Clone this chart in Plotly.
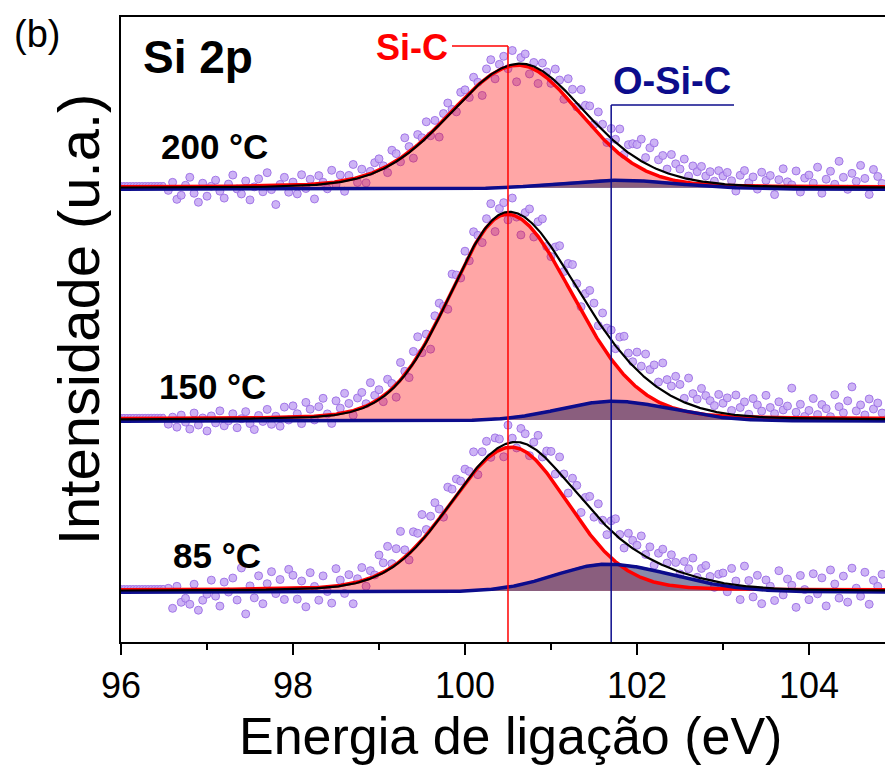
import numpy as np
import plotly.graph_objects as go

# ---------------- data (intensity in arbitrary units) ----------------
temps = ["200 °C", "150 °C", "85 °C"]
offsets = [454, 222, 51]                 # vertical offset of each spectrum
sic_center = [100.62, 100.49, 100.54]    # Si-C component (eV)
sic_amp = [122, 205, 143]
sic_hw_left = [0.94, 0.79, 0.84]
sic_hw_right = [0.85, 0.90, 0.78]
osic_center = [101.75, 101.72, 101.65]   # O-Si-C component (eV)
osic_amp = [9, 20, 28]
osic_hw_left = [0.80, 0.73, 0.72]
osic_hw_right = [0.85, 0.80, 0.92]
GL_MIX = 0.1
SIC_REF = 100.5
OSIC_REF = 101.7

x_ticks = [96, 98, 100, 102, 104]

# measured points: 96.55 ... 104.85 eV every 0.05 eV, given as deviation from the fit envelope
pts_x0, pts_dx, pts_n = 96.55, 0.05, 167
pad_x = [96.0, 96.035, 96.07, 96.105, 96.14, 96.175, 96.21, 96.245, 96.28, 96.315,
         96.35, 96.385, 96.42, 96.455, 96.49]

dev_200 = [-3, 5, -12, -8, 2, 10, -6, -15, 4, -9, 1, 7, -4, -11, 3, 12, -2, -7, 6, -13, 0, 8, -5, 14, -3, -18, 2, 9, -6,
           4, -8, 11, -3, 6, -14, 9, 2, -5, 13, -2, 7, -10, 5, 15, -4, 8, -7, 3, 10,
           12, 3, -6, 14, 8, -3, 18, 6, -9, 11, 4, 16, -2, 9, -12, 7, 13, 2, -5, 10,
           8, -4, 12, 3, -14, 9, 15, -7, 5, 11, -3, 14, -18, 6, 10, -9, 4, -15, 8, 2,
           -6, 12, 5, -10, 15, 9, -4, 18, 7, 11, -3, 14, 6, -8, 10, 3, 17, -5, 8, 12,
           14, 22, 6, 18, 25, 10, 16, 4, 20, 12, 8, 19, 3, 14, 9, 15, 6, 11, 2, 13,
           8, 12, 4, -6, 10, 15, 3, 9, -3, 14, 6, 11, -8, 7, 18, 5, 2, 16, -5, 9,
           12, 4, 20, -6, 8, 16, 3, 26, 10, -2, 14, 6, 22, 9, -7, 18, 11, 4]
dev_150 = [-5, 2, -8, 4, -3, -10, 6, -6, 1, -12, 3, -4, 8, -7, -2, 5, -9, 0, 7, -5, -11, 3, -3, 9, -6, 2, -8, 11, -2,
           12, 4, -6, 15, 8, -3, 10, 18, 2, -8, 14, 6, 20, 9, -4, 12, 16, 3, 22, 7,
           10, -5, 14, 6, -12, 18, 4, -8, 12, 20, -3, 8, -15, 10, 14, 2, -10, 16, 6, -6,
           12, -6, 15, 4, -10, 8, 18, -14, 6, 10, -8, 14, -4, -20, 5, 12, -12, 8, 16, -6,
           -10, 6, 14, -5, 10, 16, 4, -12, 8, 18, 12, -4, 15, 6, 10, -3, 14, 20, 8, 4,
           18, 8, 24, 12, 20, 6, 28, 14, 10, 22, 16, 4, 26, 12, 8, 20, 14, 10, 6, 18,
           10, 16, 4, 20, 8, 14, 2, 18, 12, 6, 22, 10, 4, 16, 8, 12, 30, 6, 14, 2,
           8, 20, 4, 14, 10, 2, 24, 12, 6, 18, 32, 8, 14, 4, 20, 10, 16, 6]
dev_85 = [2, -18, 4, -12, -8, -14, 6, -20, -10, -4, 10, -6, -16, 8, -2, 12, -10, 22, -24, 4, -8, 14, -14, 6, 18, -4, 10, -10, 20,
          14, -10, 8, -18, 16, 2, -12, 12, -4, -16, 18, 6, -8, 10, -20, 4, 14, -6, 8, 2,
          20, 10, 24, 4, 16, 30, 8, -6, 18, 12, 26, 6, 14, 22, 10, -4, 20, 12, 16, 8,
          14, 6, 20, -8, 10, 16, -4, 12, 8, -12, 18, 4, -6, 14, 10, -10, 6, 16, -2, 8,
          12, -6, 16, 4, -10, 10, 8, -14, 6, 12, -4, 14, 2, -8, 10, 16, 4, -6, 12, 8,
          6, 18, 2, 12, -4, 10, 16, 4, 14, 8, -2, 12, 6, 18, 0, 10, 14, 4, -6, 8,
          10, -8, 16, 4, -14, 20, 6, -10, 12, -16, 8, 2, -12, 18, -6, 10, 4, -18, 14, 0,
          -10, 16, -4, 12, -16, 20, 6, -8, 14, -12, 22, 2, -6, 18, -14, 10, 4, 16]
deviations = [dev_200, dev_150, dev_85]

# ---------------- styling / layout constants ----------------
W, H = 885, 767
ML, MR, MT, MB = 121, 0, 17, 125
X_RANGE = [96, 104.884]
Y_RANGE = [0, 625]
FONT = "Liberation Sans, Arial, Helvetica, sans-serif"
RED = "#ff0000"
NAVY = "#0c0c8c"

PW, PH = W - ML - MR, H - MT - MB


def px(xp):
    return (xp - ML) / PW


def py(yp):
    return (H - MB - yp) / PH


def component(x, c, a, wl, wr):
    w = np.where(x < c, wl, wr)
    u = (x - c) / w
    return a * ((1 - GL_MIX) * np.exp(-np.log(2) * u ** 2) + GL_MIX / (1 + u ** 2))


xc = np.linspace(X_RANGE[0], X_RANGE[1], 900)
xp = np.round(pts_x0 + pts_dx * np.arange(pts_n), 3)
xpad = np.array(pad_x)

fig = go.Figure()

marker = dict(size=8, color="rgba(196,166,243,0.85)",
              line=dict(color="rgba(155,110,228,0.9)", width=1))

curves = []
for i in range(3):
    y0 = offsets[i]
    sic = component(xc, sic_center[i], sic_amp[i], sic_hw_left[i], sic_hw_right[i])
    osic = component(xc, osic_center[i], osic_amp[i], osic_hw_left[i], osic_hw_right[i])

    def env(x):
        return (y0 + component(x, sic_center[i], sic_amp[i], sic_hw_left[i], sic_hw_right[i])
                + component(x, osic_center[i], osic_amp[i], osic_hw_left[i], osic_hw_right[i]))

    ypts = env(xp) + np.array(deviations[i])
    fig.add_trace(go.Scatter(x=xp, y=ypts, mode="markers", marker=marker,
                             hoverinfo="skip", showlegend=False))
    fig.add_trace(go.Scatter(x=xpad, y=env(xpad) + 2.5, mode="markers",
                             marker=dict(size=5, color="rgba(196,166,243,0.85)",
                                         line=dict(color="rgba(155,110,228,0.9)", width=1)),
                             hoverinfo="skip", showlegend=False))
    curves.append((y0, sic, osic))

for y0, sic, osic in curves:
    # Si-C filled area
    fig.add_trace(go.Scatter(x=np.concatenate([xc, xc[::-1]]),
                             y=np.concatenate([y0 + sic, np.full(len(xc), y0)]),
                             fill="toself", fillcolor="rgba(255,0,0,0.35)",
                             line=dict(width=0), mode="lines", hoverinfo="skip", showlegend=False))
    # O-Si-C filled area
    fig.add_trace(go.Scatter(x=np.concatenate([xc, xc[::-1]]),
                             y=np.concatenate([y0 + osic, np.full(len(xc), y0)]),
                             fill="toself", fillcolor="rgba(22,22,85,0.5)",
                             line=dict(width=0), mode="lines", hoverinfo="skip", showlegend=False))

for y0, sic, osic in curves:
    fig.add_trace(go.Scatter(x=xc, y=y0 + 0.8 + sic, mode="lines",
                             line=dict(color=RED, width=3.5), hoverinfo="skip", showlegend=False))
    fig.add_trace(go.Scatter(x=xc, y=y0 - 1.2 + osic, mode="lines",
                             line=dict(color=NAVY, width=3.5), hoverinfo="skip", showlegend=False))
    fig.add_trace(go.Scatter(x=xc, y=y0 + sic + osic, mode="lines",
                             line=dict(color="black", width=2.2), hoverinfo="skip", showlegend=False))

# leader lines for the components
shapes = [
    dict(type="line", xref="x", yref="paper", x0=SIC_REF, x1=SIC_REF, y0=0, y1=py(46),
         line=dict(color=RED, width=1.5)),
    dict(type="line", xref="paper", yref="paper", x0=px(452), x1=(SIC_REF - X_RANGE[0]) / (X_RANGE[1] - X_RANGE[0]),
         y0=py(46), y1=py(46), line=dict(color=RED, width=1.5)),
    dict(type="line", xref="x", yref="paper", x0=OSIC_REF, x1=OSIC_REF, y0=0, y1=py(105),
         line=dict(color=NAVY, width=1.5)),
    dict(type="line", xref="paper", yref="paper", x0=(OSIC_REF - X_RANGE[0]) / (X_RANGE[1] - X_RANGE[0]),
         x1=px(734), y0=py(105), y1=py(105), line=dict(color=NAVY, width=1.5)),
]

label_pos = [(214, 146), (212, 386), (217, 555)]
annotations = []
for t, (lx, ly) in zip(temps, label_pos):
    annotations.append(dict(text="<b>%s</b>" % t, x=px(lx), y=py(ly), xref="paper", yref="paper",
                            showarrow=False, xanchor="center", yanchor="middle",
                            font=dict(family=FONT, size=35, color="black")))
annotations += [
    dict(text="<b>Si 2p</b>", x=px(198), y=py(57), xref="paper", yref="paper", showarrow=False,
         xanchor="center", yanchor="middle", font=dict(family=FONT, size=46, color="black")),
    dict(text="(b)", x=px(37), y=py(34), xref="paper", yref="paper", showarrow=False,
         xanchor="center", yanchor="middle", font=dict(family=FONT, size=38, color="black")),
    dict(text="<b>Si-C</b>", x=px(412), y=py(47), xref="paper", yref="paper", showarrow=False,
         xanchor="center", yanchor="middle", font=dict(family=FONT, size=36, color=RED)),
    dict(text="<b>O-Si-C</b>", x=px(672), y=py(81), xref="paper", yref="paper", showarrow=False,
         xanchor="center", yanchor="middle", font=dict(family=FONT, size=38, color=NAVY)),
    dict(text="Energia de ligação (eV)", x=px(510), y=0, xref="paper", yref="paper",
         showarrow=False, xanchor="center", yanchor="bottom", yshift=-MB,
         font=dict(family=FONT, size=52, color="black")),
    dict(text="Intensidade (u.a.)", x=px(78), y=py(320), xref="paper", yref="paper",
         showarrow=False, xanchor="center", yanchor="middle", textangle=-90,
         font=dict(family=FONT, size=58, color="black")),
]

fig.update_layout(
    width=W, height=H,
    margin=dict(l=ML, r=MR, t=MT, b=MB, pad=0),
    paper_bgcolor="white", plot_bgcolor="white",
    shapes=shapes, annotations=annotations,
    xaxis=dict(range=X_RANGE, tickmode="array", tickvals=x_ticks, ticktext=[str(v) for v in x_ticks],
               ticks="outside", ticklen=11, tickwidth=2, tickcolor="black",
               showline=True, linewidth=2, linecolor="black", mirror=True,
               showgrid=False, zeroline=False,
               tickfont=dict(family=FONT, size=36, color="black"),
               minor=dict(tickvals=[97, 99, 101, 103], ticks="outside", ticklen=6, tickwidth=2,
                          tickcolor="black", showgrid=False)),
    yaxis=dict(range=Y_RANGE, showticklabels=False, ticks="", showline=True, linewidth=2,
               linecolor="black", mirror=False, showgrid=False, zeroline=False),
)

fig.write_html("out.html")
